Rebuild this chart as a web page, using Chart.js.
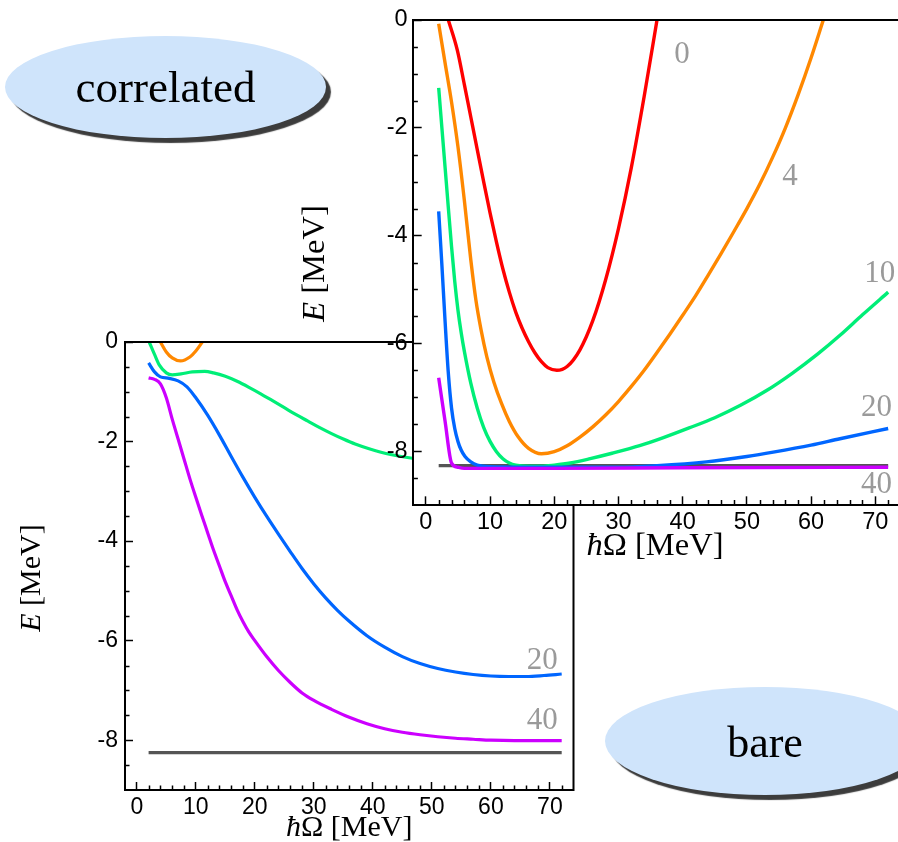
<!DOCTYPE html>
<html><head><meta charset="utf-8">
<script src="https://cdn.jsdelivr.net/npm/chart.js@4"></script>
<style>
html,body{margin:0;padding:0;width:898px;height:842px;overflow:hidden;background:#fff;}
.pane{position:absolute;left:0;top:0;}
.ell{position:absolute;border-radius:50%;background:#cfe4fb;box-shadow:5px 5px 1px #3c3c3c;display:flex;align-items:center;justify-content:center;font-family:"Liberation Serif","Times New Roman",serif;color:#000;line-height:1;}
</style></head><body>
<canvas id="bare" class="pane" width="898" height="842"></canvas>
<canvas id="corr" class="pane" width="912" height="842"></canvas>
<div class="ell" style="left:5px;top:36px;width:321px;height:102px;font-size:45px;padding-top:0px;box-sizing:border-box;">correlated</div>
<div class="ell" style="left:605px;top:687px;width:320px;height:108px;font-size:44px;padding-top:4px;box-sizing:border-box;">bare</div>
<script>
// ---------------- data ----------------
const xTickValues = [0, 10, 20, 30, 40, 50, 60, 70];
const yTickValues = [0, -2, -4, -6, -8];
const seriesNames = ['0', '4', '10', '20', '40'];

// bare panel  [hbarOmega, E]
const bareExact = [[2, -8.25], [72, -8.25]];
const bare4 = [[4, 0], [5, -0.2], [6, -0.32], [7.4, -0.38], [9, -0.3], [10, -0.18], [11.1, 0]];
const bare10 = [[2.1, 0], [3, -0.25], [3.8, -0.46], [5, -0.62], [6, -0.66], [7.5, -0.64], [9.4, -0.6], [11.5, -0.59], [13, -0.62], [15, -0.69], [17, -0.79], [19, -0.91], [21, -1.04], [23, -1.18], [25, -1.32], [27, -1.46], [29, -1.59], [31, -1.72], [33, -1.84], [35, -1.95], [37, -2.05], [39.5, -2.15], [43, -2.26], [47, -2.34], [52, -2.4], [60, -2.45], [66, -2.46], [72, -2.45]];
const bare20 = [[2, -0.42], [3, -0.6], [4, -0.7], [5.5, -0.73], [7, -0.78], [8.5, -0.9], [10, -1.12], [12, -1.47], [14, -1.87], [16, -2.3], [18, -2.72], [20, -3.12], [22, -3.5], [24, -3.86], [26, -4.21], [28, -4.55], [30, -4.86], [32, -5.14], [34, -5.39], [36, -5.61], [39, -5.9], [42, -6.13], [45, -6.32], [48, -6.46], [51, -6.56], [54, -6.63], [57, -6.68], [60, -6.71], [63, -6.72], [66, -6.72], [69, -6.7], [72, -6.67]];
const bare40 = [[2, -0.72], [3, -0.75], [4, -0.84], [5, -1.12], [6, -1.55], [7, -1.95], [8, -2.35], [9, -2.75], [10, -3.12], [11, -3.48], [12, -3.83], [13, -4.18], [14, -4.5], [15, -4.82], [16, -5.1], [17, -5.38], [18, -5.62], [19, -5.83], [20, -6.0], [22, -6.32], [24, -6.6], [26, -6.84], [28, -7.05], [30, -7.2], [33, -7.38], [36, -7.54], [39, -7.67], [42, -7.77], [45, -7.84], [48, -7.89], [51, -7.93], [54, -7.96], [57, -7.98], [60, -8.0], [64, -8.01], [68, -8.01], [72, -8.01]];

// correlated panel  [hbarOmega, E]
const corrExact = [[2, -8.27], [72, -8.27]];
const corr0 = [[3.5, 0], [4.9, -0.56], [6, -1.2], [7, -1.8], [8, -2.4], [9, -3.0], [10, -3.58], [11, -4.12], [12, -4.62], [13, -5.05], [14, -5.42], [15, -5.72], [16, -5.97], [17, -6.18], [18, -6.34], [19, -6.45], [20.4, -6.5], [22, -6.43], [24, -6.12], [26, -5.58], [28, -4.82], [30, -3.87], [32, -2.74], [34, -1.42], [36, 0]];
const corr4 = [[2, -0.07], [3, -0.8], [4, -1.52], [5, -2.35], [6, -3.35], [7, -4.45], [7.8, -5.2], [8.6, -5.75], [9.5, -6.25], [10.6, -6.72], [11.8, -7.12], [13, -7.45], [14.4, -7.74], [16, -7.95], [18, -8.05], [20, -8.01], [22, -7.9], [24, -7.74], [26, -7.55], [28, -7.33], [30, -7.08], [32, -6.8], [34, -6.5], [36, -6.17], [38, -5.83], [40, -5.48], [42, -5.12], [44, -4.73], [46, -4.33], [48, -3.92], [50, -3.5], [52, -3.05], [54, -2.55], [56, -2.0], [58, -1.38], [60, -0.7], [61.9, 0]];
const corr10 = [[2, -1.26], [2.5, -2.0], [3, -2.74], [3.5, -3.48], [4, -4.2], [4.5, -4.85], [5, -5.38], [5.5, -5.8], [6, -6.15], [7, -6.74], [8, -7.2], [9, -7.56], [10, -7.82], [11, -8.01], [12, -8.14], [13, -8.22], [14, -8.26], [16, -8.28], [18, -8.28], [20, -8.26], [22.5, -8.22], [25.6, -8.14], [29, -8.04], [33.3, -7.9], [37, -7.75], [41, -7.57], [45, -7.38], [49, -7.15], [53, -6.88], [57, -6.56], [61, -6.2], [64.5, -5.85], [68, -5.47], [72, -5.05]];
const corr20 = [[2, -3.55], [2.5, -4.55], [3, -5.6], [3.5, -6.55], [4, -7.2], [4.5, -7.58], [5, -7.82], [5.5, -7.98], [6.1, -8.1], [7, -8.2], [8, -8.26], [10, -8.29], [20, -8.3], [30, -8.3], [36, -8.27], [43.7, -8.2], [50, -8.1], [54.1, -8.02], [60, -7.89], [64.5, -7.77], [72, -7.58]];
const corr40 = [[2, -6.64], [3, -7.45], [4, -8.22], [5, -8.3], [6, -8.32], [10, -8.32], [20, -8.32], [40, -8.31], [72, -8.3]];

// ---------------- rendering ----------------
const COLORS = {exact: '#555555', '0': '#ff0000', '4': '#ff8800', '10': '#00ee77', '20': '#0066ff', '40': '#cc00ff'};
const SANS = '"Liberation Sans", Arial, Helvetica, sans-serif';
const SERIF = '"Liberation Serif", "Times New Roman", Times, serif';

function toXY(arr) { return arr.map(p => ({x: p[0], y: p[1]})); }

function drawParts(ctx, parts, size, align) {
  let total = 0;
  const widths = parts.map(([st, t]) => { ctx.font = st + ' ' + size + 'px ' + SERIF; const w = ctx.measureText(t).width; total += w; return w; });
  let x = align === 'center' ? -total / 2 : 0;
  parts.forEach(([st, t], i) => { ctx.font = st + ' ' + size + 'px ' + SERIF; ctx.fillText(t, x, 0); x += widths[i]; });
}

const decorPlugin = {
  id: 'decor',
  beforeDraw(chart, args, o) {
    if (!o.fillPlot) return;
    const a = chart.chartArea, ctx = chart.ctx;
    ctx.save(); ctx.fillStyle = '#ffffff';
    ctx.fillRect(a.left, a.top, a.right - a.left, a.bottom - a.top);
    ctx.restore();
  },
  afterDraw(chart, args, o) {
    const ctx = chart.ctx, a = chart.chartArea, xs = chart.scales.x, ys = chart.scales.y, k = o.k;
    ctx.save();
    ctx.strokeStyle = '#000'; ctx.lineWidth = 2;
    ctx.beginPath(); ctx.moveTo(a.left - 1, a.top); ctx.lineTo(a.right, a.top); ctx.lineTo(a.right, a.bottom + 1); ctx.stroke();
    ctx.lineWidth = 1.5;
    ctx.beginPath();
    for (let v = 2; v <= 72; v += 2) {
      if (v % 10 === 0) continue;
      const px = Math.round(xs.getPixelForValue(v)) + 0.5;
      ctx.moveTo(px, a.bottom); ctx.lineTo(px, a.bottom - 4.5 * k);
    }
    for (let v = -8.5; v < 0; v += 0.5) {
      if (v % 2 === 0) continue;
      const py = Math.round(ys.getPixelForValue(v)) + 0.5;
      ctx.moveTo(a.left, py); ctx.lineTo(a.left + 4.5 * k, py);
    }
    ctx.stroke();
    ctx.fillStyle = '#000'; ctx.textBaseline = 'alphabetic';
    ctx.save();
    ctx.translate((a.left + a.right) / 2 + o.xTitleDx, a.bottom + o.xTitleDy);
    drawParts(ctx, [['italic', 'ħ'], ['normal', 'Ω [MeV]']], o.titleSize, 'center');
    ctx.restore();
    ctx.save();
    ctx.translate(a.left - o.yTitleDx, (a.top + a.bottom) / 2 + o.yTitleDy);
    ctx.rotate(-Math.PI / 2);
    drawParts(ctx, [['italic', 'E'], ['normal', ' [MeV]']], o.titleSize, 'center');
    ctx.restore();
    ctx.fillStyle = '#9a9a9a'; ctx.textAlign = 'center'; ctx.textBaseline = 'middle';
    ctx.font = o.labelSize + 'px ' + SERIF;
    o.labels.forEach(l => { ctx.fillText(l.t, xs.getPixelForValue(l.x), ys.getPixelForValue(l.y)); });
    ctx.restore();
  }
};

function makeChart(id, series, cfg) {
  const k = cfg.k;
  const datasets = series.map((s, i) => ({
    data: toXY(s.data), borderColor: COLORS[s.key], borderWidth: cfg.lineW, pointRadius: 0,
    fill: false, cubicInterpolationMode: 'monotone', order: s.key === 'exact' ? 10 : 6 - i
  }));
  return new Chart(document.getElementById(id), {
    type: 'line',
    data: {datasets},
    options: {
      responsive: false, animation: false, events: [], devicePixelRatio: 1,
      layout: {padding: {left: 0, top: cfg.top, right: cfg.right, bottom: 0}},
      plugins: {legend: {display: false}, tooltip: {enabled: false},
        decor: {k, fillPlot: cfg.fillPlot, titleSize: cfg.titleSize, labelSize: cfg.labelSize,
          xTitleDx: cfg.xTitleDx, xTitleDy: cfg.xTitleDy, yTitleDx: cfg.yTitleDx, yTitleDy: cfg.yTitleDy, labels: cfg.labels}},
      scales: {
        x: {type: 'linear', min: -2, max: 74,
          afterFit: s => { s.height = cfg.xh; s.paddingLeft = 0; s.paddingRight = 0; },
          afterBuildTicks: s => { s.ticks = xTickValues.map(v => ({value: v})); },
          grid: {display: true, drawOnChartArea: false, drawTicks: true, tickLength: -8 * k, tickColor: '#000', tickWidth: 1.5},
          border: {display: true, color: '#000', width: 2},
          ticks: {color: '#000', font: {family: SANS, size: cfg.tickSize}, padding: cfg.xPad, maxRotation: 0, autoSkip: false, callback: v => String(v)}
        },
        y: {type: 'linear', min: -9, max: 0,
          afterFit: s => { s.width = cfg.yw; s.paddingTop = 0; s.paddingBottom = 0; },
          afterBuildTicks: s => { s.ticks = yTickValues.map(v => ({value: v})); },
          grid: {display: true, drawOnChartArea: false, drawTicks: true, tickLength: -8 * k, tickColor: '#000', tickWidth: 1.5},
          border: {display: true, color: '#000', width: 2},
          ticks: {color: '#000', font: {family: SANS, size: cfg.tickSize}, padding: cfg.yPad, autoSkip: false, callback: v => String(v)}
        }
      }
    },
    plugins: [decorPlugin]
  });
}

makeChart('bare', [
  {key: 'exact', data: bareExact}, {key: '4', data: bare4}, {key: '10', data: bare10},
  {key: '20', data: bare20}, {key: '40', data: bare40}
], {k: 1, top: 342, right: 324.5, yw: 125, xh: 52, fillPlot: false, tickSize: 23, xPad: 12, yPad: 15, lineW: 3.2,
  titleSize: 30, labelSize: 31, xTitleDx: 0, xTitleDy: 46, yTitleDx: 85, yTitleDy: 12,
  labels: [{t: seriesNames[3], x: 68.7, y: -6.41}, {t: seriesNames[4], x: 68.7, y: -7.61}]});

makeChart('corr', [
  {key: 'exact', data: corrExact}, {key: '0', data: corr0}, {key: '4', data: corr4}, {key: '10', data: corr10},
  {key: '20', data: corr20}, {key: '40', data: corr40}
], {k: 1.084, top: 20, right: 11, yw: 413, xh: 337, fillPlot: true, tickSize: 23.5, xPad: 12, yPad: 14, lineW: 3.4,
  titleSize: 32.5, labelSize: 31, xTitleDx: -2, xTitleDy: 50, yTitleDx: 89, yTitleDy: 1,
  labels: [{t: seriesNames[0], x: 39.9, y: -0.65}, {t: seriesNames[1], x: 56.7, y: -2.92}, {t: seriesNames[2], x: 70.7, y: -4.72},
           {t: seriesNames[3], x: 70.2, y: -7.2}, {t: seriesNames[4], x: 70.2, y: -8.63}]});
</script>
</body></html>
